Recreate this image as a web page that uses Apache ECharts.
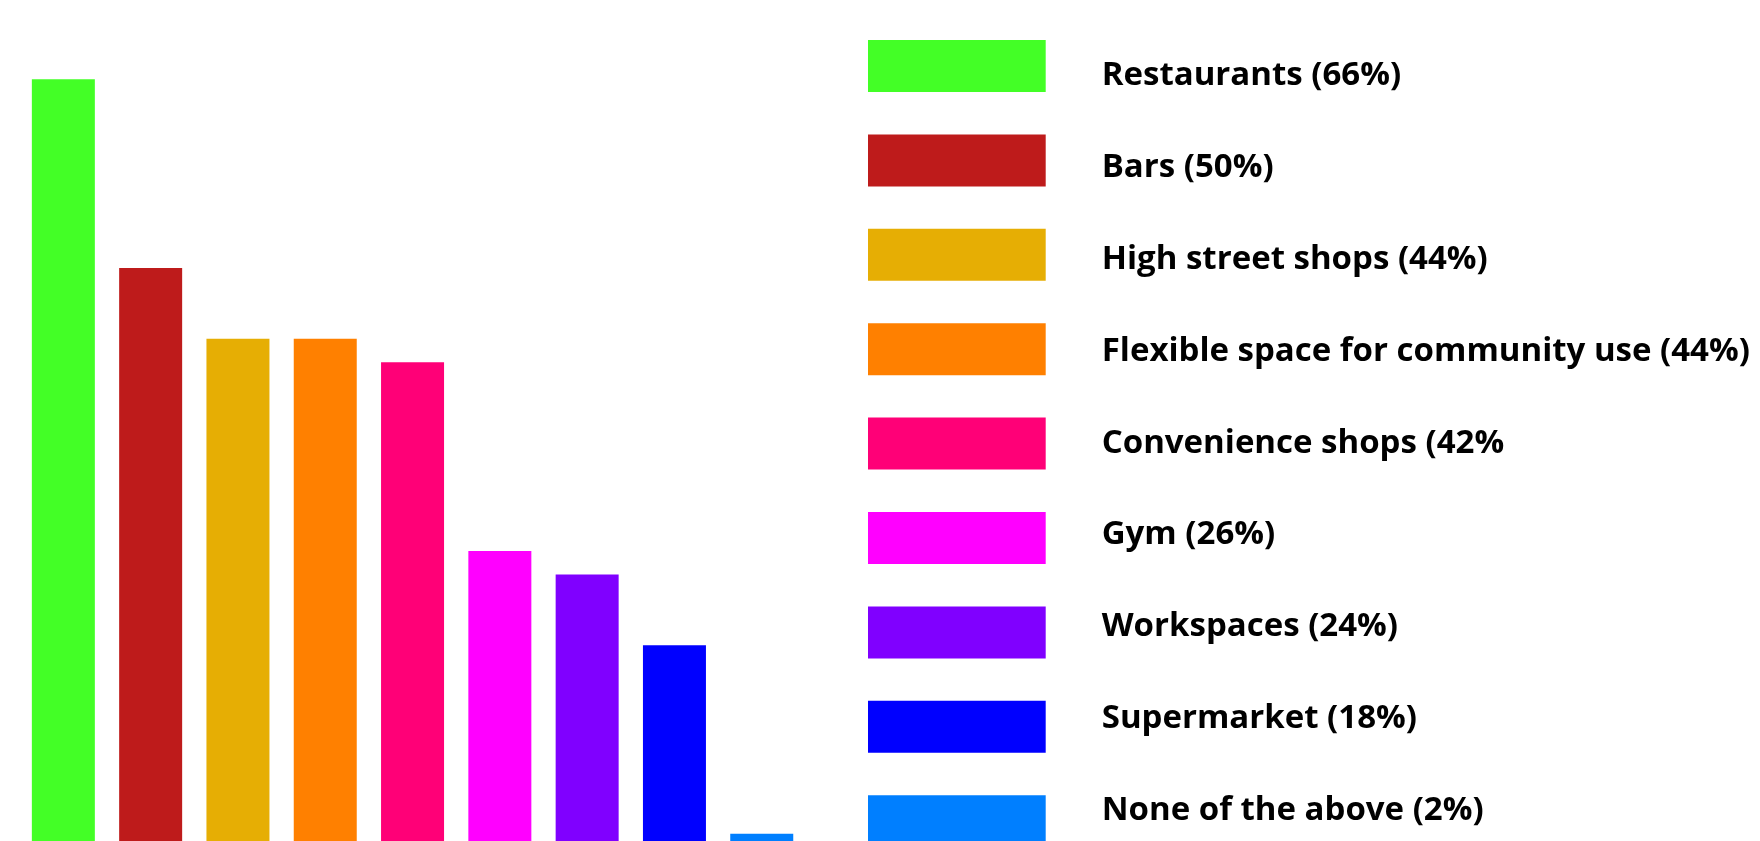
<!DOCTYPE html>
<html>
<head>
<meta charset="utf-8">
<script src="https://cdn.jsdelivr.net/npm/echarts@6/dist/echarts.min.js"></script>
<style>
html,body{margin:0;padding:0;background:#fff;}
#chart{width:1760px;height:841px;}
</style>
</head>
<body>
<div id="chart"></div>
<script>
const categories = ["Restaurants","Bars","High street shops","Flexible space for community use","Convenience shops","Gym","Workspaces","Supermarket","None of the above"];
const values = [66, 50, 44, 44, 42, 26, 24, 18, 2];
const legendLabels = ["Restaurants (66%)","Bars (50%)","High street shops (44%)","Flexible space for community use (44%)","Convenience shops (42%","Gym (26%)","Workspaces (24%)","Supermarket (18%)","None of the above (2%)"];
const colors = ["#43FF26","#BE1B1B","#E6AE04","#FF8000","#FF0077","#FF00FF","#8000FF","#0000FF","#007FFF"];

const series = categories.map((c, i) => ({
  name: legendLabels[i],
  type: 'bar',
  stack: 'all',
  barWidth: 63,
  itemStyle: { color: colors[i] },
  data: categories.map((_, j) => (j === i ? values[i] : null))
}));

const chart = echarts.init(document.getElementById('chart'), null, {renderer: 'canvas'});
chart.setOption({
  animation: false,
  backgroundColor: '#ffffff',
  color: colors,
  grid: { left: 19.7, top: 79.3, width: 785.7, height: 778.1, containLabel: false, outerBoundsMode: 'none' },
  xAxis: { type: 'category', data: categories, show: false },
  yAxis: { type: 'value', min: 0, max: 66, show: false },
  legend: [
    {
      // colour swatches
      orient: 'vertical',
      left: 868,
      top: 40,
      height: 1000,
      padding: 0,
      itemWidth: 177.7,
      itemHeight: 52,
      itemGap: 42.4,
      icon: 'rect',
      selectedMode: false,
      data: legendLabels,
      formatter: () => '',
      textStyle: { fontSize: 1 }
    },
    {
      // labels
      orient: 'vertical',
      left: 868,
      top: 55.5,
      height: 1000,
      padding: 0,
      itemWidth: 177.7,
      itemHeight: 40,
      itemGap: 51.9,
      icon: 'rect',
      itemStyle: { opacity: 0 },
      selectedMode: false,
      data: legendLabels,
      textStyle: {
        fontFamily: 'Open Sans',
        fontWeight: 'bold',
        fontSize: 33,
        color: '#000',
        padding: [0, 0, 0, 51]
      }
    }
  ],
  series: series
});
</script>
</body>
</html>
